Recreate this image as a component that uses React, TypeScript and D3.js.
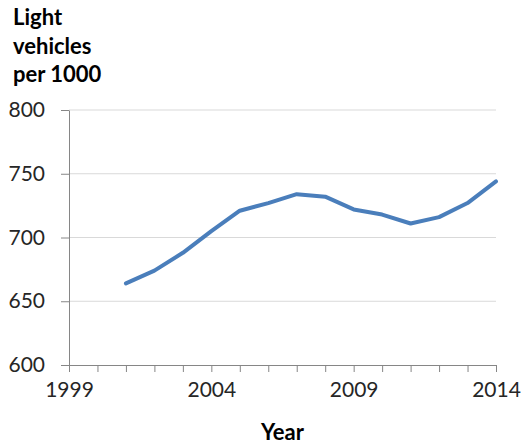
import * as d3 from "d3";
import { useRef, useEffect } from "react";

// Values
const years = [2001, 2002, 2003, 2004, 2005, 2006, 2007, 2008, 2009, 2010, 2011, 2012, 2013, 2014];
const vehiclesPer1000 = [664, 674, 688, 705, 721, 727, 734, 732, 722, 718, 711, 716, 727, 744];
const yTicks = [600, 650, 700, 750, 800];
const xLabelYears = [1999, 2004, 2009, 2014];
const titleLines = ["Light", "vehicles", "per 1000"];

const FONT = "Lato, 'Open Sans', sans-serif";

export default function App() {
  const ref = useRef<SVGSVGElement | null>(null);
  const width = 524;
  const height = 445;
  const marginLeft = 69;
  const marginRight = 28;
  const marginTop = 110;
  const marginBottom = 80;

  useEffect(() => {
    const svg = d3.select(ref.current);
    svg.selectAll("*").remove();

    const x = d3
      .scaleLinear()
      .domain([1999, 2014])
      .range([marginLeft, width - marginRight]);

    const y = d3
      .scaleLinear()
      .domain([600, 800])
      .range([height - marginBottom, marginTop]);

    // Horizontal gridlines
    svg
      .append("g")
      .selectAll("line")
      .data(yTicks.slice(1))
      .join("line")
      .attr("x1", marginLeft)
      .attr("x2", width - marginRight)
      .attr("y1", (d) => y(d))
      .attr("y2", (d) => y(d))
      .attr("stroke", "#d9d9d9")
      .attr("stroke-width", 1);

    // Y axis
    svg
      .append("g")
      .attr("transform", `translate(${marginLeft},0)`)
      .call(d3.axisLeft(y).tickValues(yTicks).tickSize(8).tickSizeOuter(0).tickPadding(16))
      .call((g) => g.selectAll("line, path").attr("stroke", "#868686"))
      .call((g) =>
        g
          .selectAll("text")
          .attr("font-family", FONT)
          .attr("font-size", 21)
          .attr("fill", "#262626"),
      );

    // X axis: a tick every year, labels every five
    svg
      .append("g")
      .attr("transform", `translate(0,${height - marginBottom})`)
      .call(
        d3
          .axisBottom(x)
          .tickValues(d3.range(1999, 2015))
          .tickSize(7)
          .tickSizeOuter(0)
          .tickPadding(10)
          .tickFormat((d) => (xLabelYears.includes(d as number) ? String(d) : "")),
      )
      .call((g) => g.selectAll("line, path").attr("stroke", "#868686"))
      .call((g) =>
        g
          .selectAll("text")
          .attr("font-family", FONT)
          .attr("font-size", 21)
          .attr("fill", "#262626"),
      );

    // The series line
    const line = d3
      .line<number>()
      .x((_, i) => x(years[i]))
      .y((d) => y(d));

    svg
      .append("path")
      .datum(vehiclesPer1000)
      .attr("fill", "none")
      .attr("stroke", "#4a7ebb")
      .attr("stroke-width", 4)
      .attr("stroke-linejoin", "round")
      .attr("stroke-linecap", "round")
      .attr("d", line);

    // Y title, stacked in the top-left corner
    svg
      .append("g")
      .selectAll("text")
      .data(titleLines)
      .join("text")
      .attr("x", 13)
      .attr("y", (_, i) => 25 + i * 28.5)
      .attr("font-family", FONT)
      .attr("font-size", 22)
      .attr("font-weight", "bold")
      .attr("fill", "#000")
      .text((d) => d);

    // X title
    svg
      .append("text")
      .attr("x", (marginLeft + width - marginRight) / 2)
      .attr("y", 440)
      .attr("text-anchor", "middle")
      .attr("font-family", FONT)
      .attr("font-size", 22)
      .attr("font-weight", "bold")
      .attr("fill", "#000")
      .text("Year");
  }, []);

  return (
    <svg
      ref={ref}
      width={width}
      height={height}
      style={{ position: "absolute", left: 0, top: 0, background: "#fff" }}
    />
  );
}
